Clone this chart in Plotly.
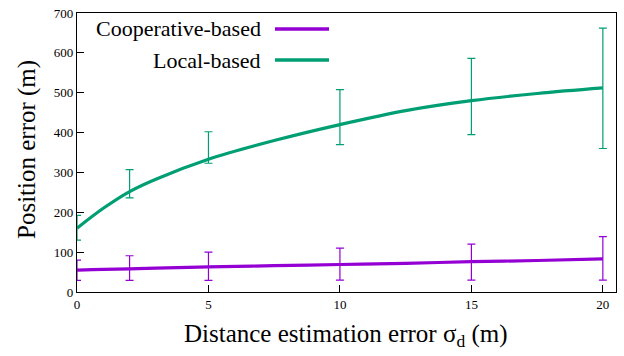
import plotly.graph_objects as go

# ---- data ----
err_x = [0, 2, 5, 10, 15, 20]
coop_lo = [29, 29, 29, 30, 30, 30]
coop_hi = [80, 91, 100, 110, 120, 139]
local_lo = [130, 236, 323, 370, 395, 360]
local_hi = [192, 307, 402, 508, 586, 662]

curve_x = [0, 1, 2, 3, 5, 7.5, 10, 12.5, 15, 17.5, 20]
coop_curve = [55, 57, 58, 60, 63, 66, 69, 72, 76, 79, 83]
local_curve = [160, 210, 252, 283, 333, 380, 420, 455, 480, 498, 512]

x_ticks = [0, 5, 10, 15, 20]
series_names = ["Cooperative-based", "Local-based"]
x_title = "Distance estimation error σ<sub>d</sub> (m)"
y_title = "Position error (m)"
PURPLE = "#9400D3"
GREEN = "#009E73"
FONT = "Liberation Serif"
FONT2 = "Times New Roman"

fig = go.Figure()

def add_err(lo, hi, color):
    mid = [(a + b) / 2 for a, b in zip(lo, hi)]
    half = [(b - a) / 2 for a, b in zip(lo, hi)]
    fig.add_trace(go.Scatter(
        x=err_x, y=mid, mode="markers",
        marker=dict(size=1, color="rgba(0,0,0,0)"),
        error_y=dict(type="data", array=half, visible=True, color=color,
                     thickness=1.2, width=4),
        showlegend=False, hoverinfo="skip"))

add_err(local_lo, local_hi, GREEN)
add_err(coop_lo, coop_hi, PURPLE)

fig.add_trace(go.Scatter(x=curve_x, y=local_curve, mode="lines",
                         line=dict(color=GREEN, width=3.2, shape="spline"),
                         showlegend=False))
fig.add_trace(go.Scatter(x=curve_x, y=coop_curve, mode="lines",
                         line=dict(color=PURPLE, width=3.2, shape="spline"),
                         showlegend=False))

W, H = 624, 356
L, R, T, B = 77, 8, 13, 64
pw, ph = W - L - R, H - T - B

def px_to_paper(x, y):
    return (x - L) / pw, 1 - (y - T) / ph

# manual legend (text right-aligned, sample line to the right)
for name, color, ypix in [(series_names[0], PURPLE, 29), (series_names[1], GREEN, 60)]:
    tx, ty = px_to_paper(263, ypix)
    fig.add_annotation(x=tx, y=ty, xref="paper", yref="paper", text=name,
                       showarrow=False, xanchor="right", yanchor="middle",
                       font=dict(family=FONT, size=22, color="black"))
    x0, y0 = px_to_paper(275, ypix)
    x1, _ = px_to_paper(329, ypix)
    fig.add_shape(type="line", xref="paper", yref="paper", x0=x0, x1=x1, y0=y0, y1=y0,
                  line=dict(color=color, width=3.5))

# axis titles
ax_, ay_ = px_to_paper(346, 335)
fig.add_annotation(x=ax_, y=ay_, xref="paper", yref="paper", text=x_title,
                   showarrow=False, xanchor="center", yanchor="middle",
                   font=dict(family=FONT, size=25, color="black"))
bx_, by_ = px_to_paper(27, 150)
fig.add_annotation(x=bx_, y=by_, xref="paper", yref="paper", text=y_title,
                   showarrow=False, xanchor="center", yanchor="middle", textangle=-90,
                   font=dict(family=FONT2, size=25, color="black"))

fig.update_layout(
    width=W, height=H,
    margin=dict(l=L, r=R, t=T, b=B, autoexpand=False),
    plot_bgcolor="white", paper_bgcolor="white",
    font=dict(family=FONT2, size=12, color="black"),
    showlegend=False,
)
fig.update_xaxes(range=[0, 20.5], tickvals=x_ticks, ticks="inside", ticklen=7,
                 tickcolor="black", showgrid=False, zeroline=False, automargin=False,
                 showline=True, linecolor="black", linewidth=1.2, mirror=True,
                 tickfont=dict(family=FONT2, size=13))
fig.update_yaxes(range=[0, 700], dtick=100, ticks="inside", ticklen=7,
                 tickcolor="black", showgrid=False, zeroline=False, automargin=False,
                 showline=True, linecolor="black", linewidth=1.2, mirror=True,
                 tickfont=dict(family=FONT2, size=13))

fig.write_html("out.html", config={"displayModeBar": False},
               post_script="document.body.style.margin='0';")
